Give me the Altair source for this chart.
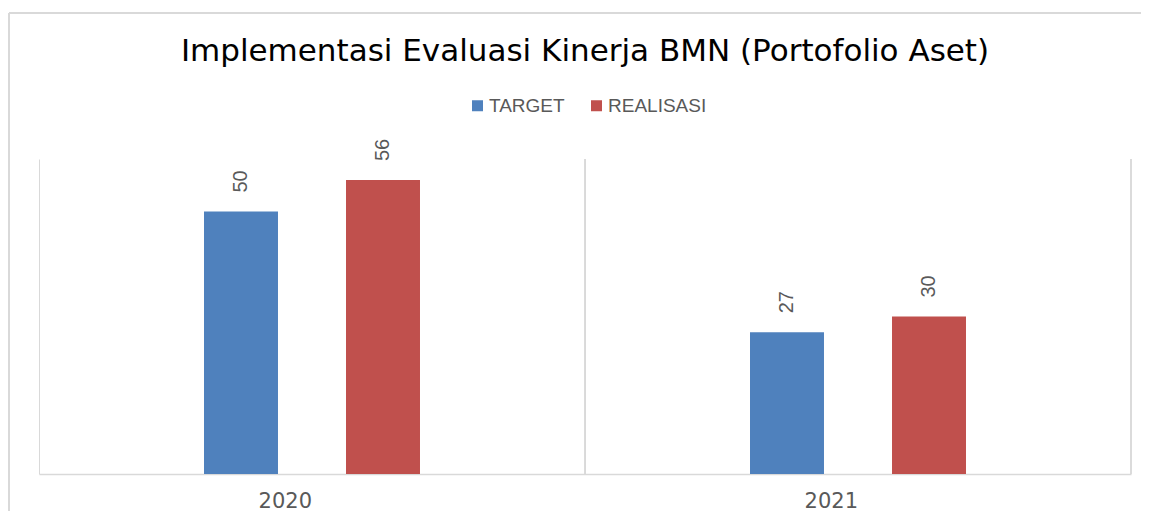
import altair as alt
import pandas as pd

years = ["2020", "2021"]
series = ["TARGET", "REALISASI"]
target = [50, 27]
realisasi = [56, 30]
colors = ["#4F81BD", "#C0504D"]

rows = []
for i, y in enumerate(years):
    rows.append({"year": y, "series": "TARGET", "value": target[i]})
    rows.append({"year": y, "series": "REALISASI", "value": realisasi[i]})
df = pd.DataFrame(rows)

W, H = 1092, 315
GRID = "#D9D9D9"
TXT = "#595959"

# empty slots on each side of the pair of bars give the wide outer gap
offset_domain = ["_l"] + series + ["_r"]

x = alt.X("year:N", sort=years, title=None,
          scale=alt.Scale(paddingInner=0, paddingOuter=0),
          axis=alt.Axis(labelAngle=0, ticks=False, grid=True, bandPosition=0,
                        gridColor=GRID, domainColor=GRID, domainWidth=1.5,
                        labelFont="DejaVu Sans", labelFontSize=21, labelColor=TXT,
                        labelPadding=27))
xo = alt.XOffset("series:N",
                 scale=alt.Scale(domain=offset_domain, paddingInner=0.479, paddingOuter=0.162))
y = alt.Y("value:Q", scale=alt.Scale(domain=[0, 60]), axis=None)

base = alt.Chart(df)

bars = base.mark_bar().encode(
    x=x, xOffset=xo, y=y,
    color=alt.Color("series:N", sort=series,
                    scale=alt.Scale(domain=series, range=colors),
                    legend=alt.Legend(title=None, orient="none", legendX=429, legendY=-63,
                                      direction="horizontal", symbolType="square",
                                      symbolSize=121, symbolStrokeWidth=0,
                                      labelFont="Liberation Sans", labelFontSize=19,
                                      labelColor=TXT, labelOffset=2, columnPadding=22,
                                      padding=0)),
)

labels = base.mark_text(angle=270, align="left", baseline="middle", dx=19,
                        font="Liberation Sans Narrow, Liberation Sans", fontSize=20,
                        color=TXT).encode(
    x=x, xOffset=xo, y=y, text=alt.Text("value:Q"))

right_edge = base.mark_rule(color=GRID, strokeWidth=1.5).encode(
    x=alt.X("year:N", sort=years, bandPosition=1))

frame_top = base.mark_rule(color=GRID, strokeWidth=1.5).encode(
    x=alt.value(-30), x2=alt.value(1102), y=alt.value(-146))
frame_left = base.mark_rule(color=GRID, strokeWidth=1.5).encode(
    x=alt.value(-30), y=alt.value(-146), y2=alt.value(352))

chart = alt.layer(frame_top, frame_left, right_edge, bars, labels).properties(
    width=W, height=H,
    padding={"top": 4, "left": 0, "right": 0, "bottom": 0},
    title=alt.TitleParams("Implementasi Evaluasi Kinerja BMN (Portofolio Aset)",
                          frame="group", anchor="middle", baseline="alphabetic",
                          offset=-80, font="DejaVu Sans", fontSize=31,
                          fontWeight="normal", color="#000000"),
).configure_view(stroke=None)

chart.save("out.html", embed_options={"renderer": "svg", "actions": False})
